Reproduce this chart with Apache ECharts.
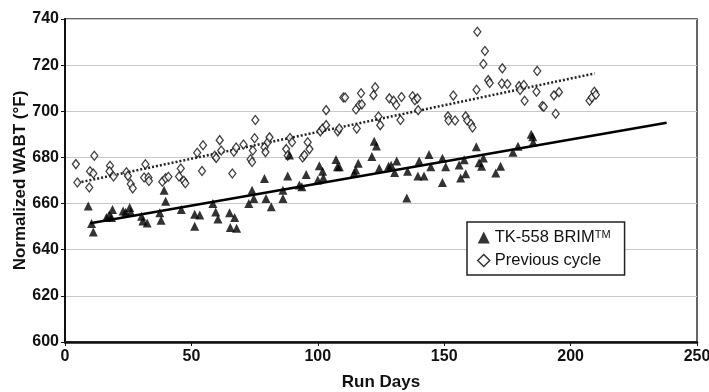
<!DOCTYPE html>
<html>
<head>
<meta charset="utf-8">
<script src="https://cdn.jsdelivr.net/npm/echarts@6/dist/echarts.min.js"></script>
<style>
  html, body { margin: 0; padding: 0; background: #fff; }
  #main { width: 709px; height: 392px; }
</style>
</head>
<body>
<div id="main"></div>
<script>
// TK-558 BRIM run: [run day, normalized WABT]
var brimPoints = [
    [9.2, 659], [10.5, 651.4], [11.2, 647.7], [16.4, 654], [17.5, 655], [18.8, 657.4], [18.4, 654],
    [23, 656.8], [24, 656.2], [25.6, 658.3], [26, 656.4], [30.3, 654.5], [30.8, 652.5], [32.5, 651.6],
    [37.5, 656], [38, 652.8], [39.2, 665.8], [39.8, 661], [46, 657.4], [51.3, 655.4], [53.3, 655],
    [51.3, 650.2], [58.5, 660], [59.6, 656.4], [60.5, 653.3], [65.1, 656], [67.1, 654], [65.4, 649.6],
    [67.9, 649.3], [72.7, 660], [74, 665.8], [74.7, 662.2], [78.9, 670.9], [79.5, 662.2], [81.6, 658.6],
    [86.2, 665.8], [86.2, 662.2], [88.1, 671.9], [88.8, 681], [92.7, 668], [93.7, 667.3], [95.4, 672.6],
    [100, 670.2], [100.6, 676.4], [101.9, 674], [102.2, 671.2], [107.2, 679.1], [107.8, 676], [108.5, 676],
    [114.4, 673.3], [115, 674.5], [116, 677.5], [121.4, 680.4], [122.3, 687], [123.2, 685], [124.3, 675.3],
    [128, 676.2], [129, 676.6], [130.4, 673.5], [131.2, 678.5], [135.2, 662.4], [135.5, 674], [139.6, 671.9],
    [140.1, 678.5], [142, 671.9], [144, 681.3], [144.7, 676], [149.3, 669.1], [149.3, 679.6], [150.6, 676],
    [155.9, 676.7], [156.5, 671.1], [157.9, 679], [158.5, 672.9], [162.7, 684.6], [163.8, 677.7],
    [164.8, 676.2], [165.5, 679.8], [170.4, 673.2], [172.3, 676.2], [177.2, 682.2], [179.2, 684.8],
    [184.4, 690.1], [185, 689], [185.2, 686.6]
];

// previous cycle: [run day, normalized WABT]
var prevPoints = [
    [4.3, 677.1], [4.9, 669.1], [9.6, 667], [9.9, 674], [11.2, 673], [11.6, 680.7], [17.8, 676.4],
    [17.6, 674], [19.2, 671.7], [24.3, 673.6], [24.9, 672], [26, 668.5], [26.8, 666.6], [31.3, 671.3],
    [31.8, 677], [33, 671.3], [33.2, 669.8], [38.5, 669.5], [39.8, 671], [40.9, 671.6], [45.1, 671.7],
    [45.8, 675.2], [47, 669.9], [47.6, 668.8], [52.3, 682], [54.6, 685.3], [54.2, 674.1], [59.2, 680.7],
    [59.8, 679.8], [61.2, 687.5], [61.8, 683], [66.2, 673], [66.8, 682.5], [67.7, 684.3], [70.6, 685.6],
    [73.4, 679.2], [74, 678], [74.3, 683], [75, 688.3], [75.3, 696.2], [78.9, 684.4], [79.3, 682.3],
    [80.2, 686.6], [80.9, 688.7], [87.5, 683.6], [88.1, 680.8], [89, 688.4], [89.8, 686.6], [94, 680],
    [94.7, 681], [96, 686.6], [96.7, 683.6], [101, 691.3], [101.9, 692.5], [103.3, 700.5], [103.3, 694],
    [107.9, 691.3], [108.5, 692.5], [110.1, 706], [110.8, 706], [115.1, 700.8], [115.4, 692.5],
    [116.4, 702.7], [117.4, 703], [117.1, 707.8], [122, 707], [122.7, 710.4], [124, 697.7], [124.7, 694],
    [128.3, 705.6], [130, 704.6], [131, 702.7], [133.1, 706.2], [132.7, 696.2], [137.5, 706.5],
    [138.4, 704.8], [139.4, 705.6], [139.7, 700.5], [151.5, 697.8], [151.7, 696], [153.6, 706.8],
    [154.3, 696], [158.5, 697.8], [159.1, 696], [160.6, 694.5], [161.2, 693], [163.1, 734.5],
    [162.8, 709.3], [166.1, 726.1], [165.5, 720.5], [167.4, 713.5], [168, 712.3], [173, 718.6],
    [172.8, 712], [175, 711.8], [179.6, 710.9], [180, 709.2], [181.5, 711.4], [181.8, 704.6],
    [186.8, 717.5], [186.5, 708.5], [188.8, 702.3], [189.4, 702], [193.4, 706.9], [195.4, 708.3],
    [194.1, 698.9], [207.5, 704.6], [208.4, 706], [209.4, 708.5], [210, 707.2]
];

// trend line end points as drawn
var brimTrend = [[10, 651.5], [238, 695]];
var prevTrend = [[5, 669], [209.5, 716.4]];

var xTicks = [0, 50, 100, 150, 200, 250];
var yTicks = [600, 620, 640, 660, 680, 700, 720, 740];

var FONT = '"Liberation Sans Narrow", "Liberation Sans", Arial, sans-serif';

var myChart = echarts.init(document.getElementById('main'));

var option = {
    backgroundColor: '#fff',
    animation: false,
    grid: {
        left: 65,
        right: 12,
        top: 19,
        bottom: 50,
        outerBoundsMode: 'none',
        show: true,
        borderColor: '#333',
        borderWidth: 1.5
    },
    xAxis: {
        type: 'value',
        min: xTicks[0],
        max: xTicks[xTicks.length - 1],
        interval: 50,
        name: 'Run Days',
        nameLocation: 'middle',
        nameGap: 32,
        nameMoveOverlap: false,
        nameTextStyle: { fontFamily: FONT, fontWeight: 'bold', fontSize: 17, color: '#111' },
        axisLine: { lineStyle: { color: '#111', width: 2.5 } },
        axisTick: { show: true, length: 4, lineStyle: { color: '#111' } },
        axisLabel: { fontFamily: FONT, fontWeight: 'bold', fontSize: 16, color: '#111', margin: 7 },
        splitLine: { show: false }
    },
    yAxis: {
        type: 'value',
        min: yTicks[0],
        max: yTicks[yTicks.length - 1],
        interval: 20,
        name: 'Normalized WABT (°F)',
        nameLocation: 'middle',
        nameGap: 36,
        nameMoveOverlap: false,
        nameTextStyle: { fontFamily: FONT, fontWeight: 'bold', fontSize: 17, color: '#111' },
        axisLine: { lineStyle: { color: '#111', width: 2 } },
        axisTick: { show: true, length: 4, lineStyle: { color: '#111' } },
        axisLabel: { fontFamily: FONT, fontWeight: 'bold', fontSize: 16, color: '#111', margin: 6 },
        splitLine: { lineStyle: { color: '#c8c8c8', width: 1.2 } }
    },
    legend: {
        orient: 'vertical',
        left: 467,
        top: 222,
        padding: [7, 14, 6, 10],
        itemGap: 6,
        itemWidth: 12,
        itemHeight: 12,
        backgroundColor: '#fff',
        borderColor: '#222',
        borderWidth: 1.5,
        data: [
            { name: 'TK-558 BRIM', icon: 'triangle', itemStyle: { color: '#000' } },
            { name: 'Previous cycle', icon: 'diamond', itemStyle: { color: '#fff', borderColor: '#000', borderWidth: 1.5 } }
        ],
        formatter: function (name) {
            return name === 'TK-558 BRIM' ? '{t|TK-558 BRIM}{s|TM}' : '{t|' + name + '}';
        },
        textStyle: {
            rich: {
                t: { fontFamily: '"Liberation Sans", Arial, sans-serif', fontSize: 16.5, color: '#111' },
                s: { fontFamily: '"Liberation Sans", Arial, sans-serif', fontSize: 11, color: '#111', verticalAlign: 'top', padding: [0, 0, 6, 0] }
            }
        }
    },
    series: [
        {
            name: 'TK-558 BRIM trend',
            type: 'line',
            data: brimTrend,
            symbol: 'none',
            lineStyle: { color: '#000', width: 2.5 },
            z: 1
        },
        {
            name: 'Previous cycle trend',
            type: 'line',
            data: prevTrend,
            symbol: 'none',
            lineStyle: { color: '#222', width: 2.5, type: [2, 2] },
            z: 1
        },
        {
            name: 'TK-558 BRIM',
            type: 'scatter',
            data: brimPoints,
            symbol: 'triangle',
            symbolSize: [9, 9],
            itemStyle: { color: '#000' },
            z: 3
        },
        {
            name: 'Previous cycle',
            type: 'scatter',
            data: prevPoints,
            symbol: 'diamond',
            symbolSize: [7, 9],
            itemStyle: { color: '#fff', borderColor: '#111', borderWidth: 1.3 },
            z: 2
        }
    ]
};

myChart.setOption(option);
</script>
</body>
</html>
